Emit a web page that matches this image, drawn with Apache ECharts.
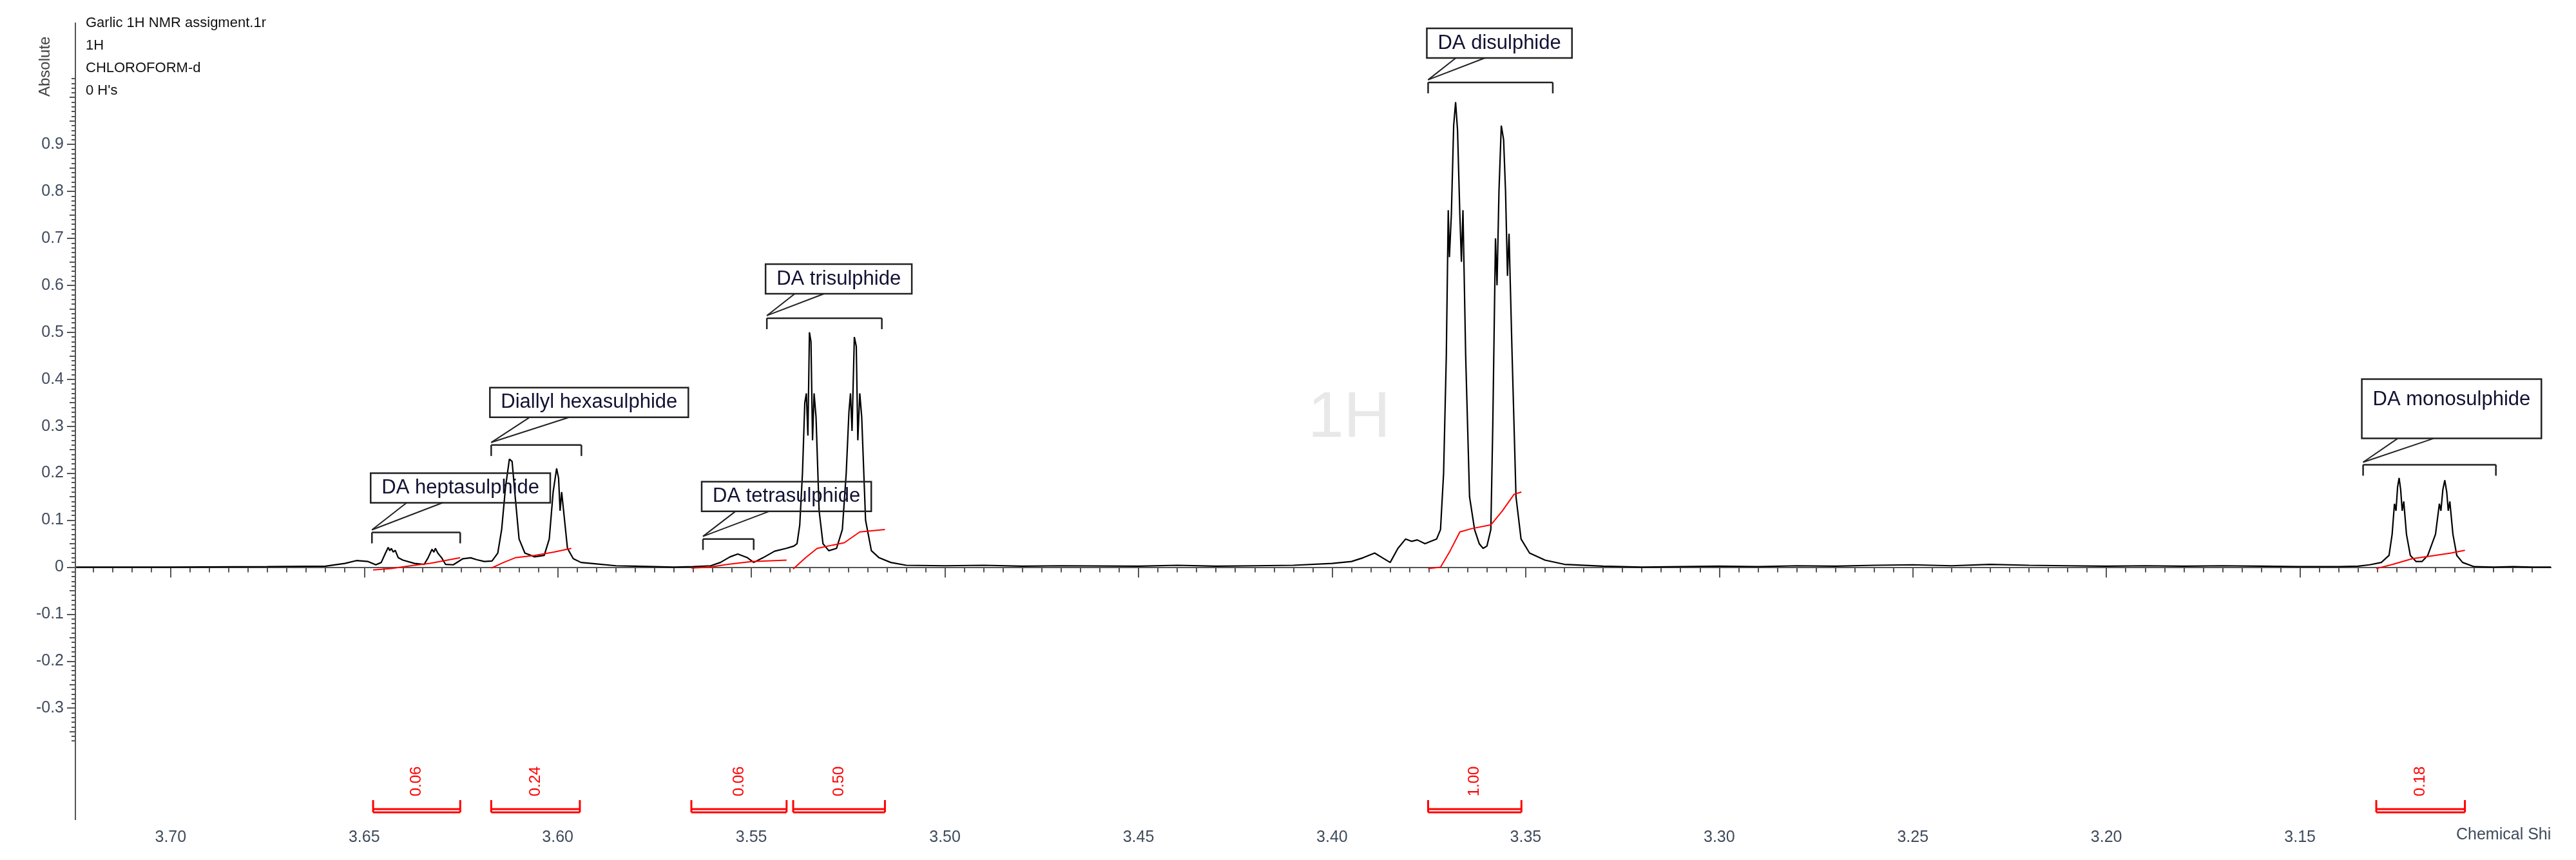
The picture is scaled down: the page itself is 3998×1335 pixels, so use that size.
<!DOCTYPE html>
<html><head><meta charset="utf-8">
<script src="https://cdn.jsdelivr.net/npm/echarts@6/dist/echarts.min.js"></script>
<style>html,body{margin:0;padding:0;background:#fff}#c{width:3998px;height:1335px}</style>
</head><body><div id="c"></div>
<script>
// Spectrum [ppm, intensity]
const spectrum = [
[3.7244,0],[3.70,0],[3.675,0.001],[3.660,0.002],[3.655,0.008],[3.652,0.014],[3.649,0.012],[3.647,0.005],
[3.6456,0.01],[3.6445,0.03],[3.6438,0.042],[3.6434,0.035],[3.6430,0.04],[3.6425,0.032],[3.6420,0.036],[3.6412,0.02],
[3.640,0.015],[3.637,0.008],[3.6345,0.006],[3.6335,0.02],[3.6325,0.038],[3.6320,0.032],[3.6316,0.04],[3.6310,0.03],
[3.6300,0.02],[3.6290,0.006],[3.627,0.005],[3.6245,0.018],[3.6225,0.02],[3.621,0.016],[3.619,0.012],[3.617,0.013],
[3.6155,0.03],[3.6145,0.08],[3.6135,0.17],[3.6125,0.23],[3.6118,0.225],[3.6110,0.15],[3.6100,0.06],[3.6085,0.03],
[3.606,0.022],[3.6035,0.025],[3.6022,0.06],[3.6012,0.16],[3.6003,0.21],[3.5998,0.19],[3.5994,0.12],[3.5990,0.16],
[3.5985,0.12],[3.5975,0.04],[3.596,0.018],[3.594,0.01],[3.590,0.007],[3.585,0.003],[3.58,0.002],[3.575,0.001],
[3.57,0.0],[3.565,0.001],[3.5605,0.003],[3.558,0.01],[3.5555,0.022],[3.5535,0.028],[3.551,0.02],[3.5494,0.01],
[3.547,0.02],[3.544,0.034],[3.541,0.04],[3.539,0.045],[3.5382,0.05],[3.5375,0.09],[3.5368,0.2],[3.5362,0.35],
[3.5358,0.37],[3.5354,0.28],[3.5350,0.5],[3.5346,0.48],[3.5342,0.27],[3.5338,0.37],[3.5333,0.32],[3.5325,0.12],
[3.5315,0.05],[3.530,0.035],[3.528,0.04],[3.5265,0.08],[3.5255,0.2],[3.5248,0.33],[3.5244,0.37],[3.5240,0.29],
[3.5234,0.49],[3.5229,0.47],[3.5225,0.27],[3.5220,0.37],[3.5215,0.32],[3.5205,0.1],[3.519,0.035],[3.517,0.02],
[3.514,0.01],[3.51,0.004],[3.50,0.003],[3.49,0.004],[3.48,0.002],[3.47,0.003],[3.45,0.002],[3.44,0.004],
[3.43,0.002],[3.42,0.003],[3.41,0.004],[3.40,0.008],[3.395,0.012],[3.392,0.02],[3.389,0.03],[3.387,0.02],
[3.385,0.01],[3.383,0.04],[3.381,0.06],[3.3795,0.055],[3.378,0.058],[3.376,0.05],[3.3745,0.055],[3.373,0.06],
[3.372,0.08],[3.3712,0.2],[3.3705,0.45],[3.3700,0.76],[3.3697,0.66],[3.3692,0.75],[3.3686,0.94],[3.3681,0.99],
[3.3676,0.93],[3.3670,0.75],[3.3666,0.65],[3.3662,0.76],[3.3655,0.45],[3.3645,0.15],[3.3632,0.08],[3.362,0.05],
[3.361,0.04],[3.360,0.045],[3.359,0.08],[3.3585,0.3],[3.3578,0.70],[3.3574,0.6],[3.3569,0.8],[3.3563,0.94],
[3.3557,0.91],[3.3552,0.8],[3.3547,0.62],[3.3543,0.71],[3.3535,0.45],[3.3525,0.15],[3.3512,0.06],[3.349,0.03],
[3.345,0.015],[3.34,0.006],[3.33,0.002],[3.32,0.0],[3.31,0.001],[3.30,0.002],[3.29,0.001],[3.28,0.003],
[3.27,0.002],[3.26,0.004],[3.25,0.005],[3.24,0.003],[3.23,0.006],[3.22,0.004],[3.21,0.003],[3.20,0.002],
[3.19,0.003],[3.18,0.002],[3.17,0.003],[3.16,0.002],[3.15,0.001],[3.14,0.001],[3.135,0.002],[3.132,0.005],
[3.129,0.01],[3.127,0.025],[3.1262,0.07],[3.1256,0.135],[3.1252,0.12],[3.1248,0.17],[3.1244,0.19],[3.1240,0.165],
[3.1236,0.12],[3.1232,0.14],[3.1225,0.07],[3.1215,0.025],[3.120,0.012],[3.1185,0.012],[3.117,0.025],[3.1150,0.07],
[3.1140,0.135],[3.1136,0.12],[3.1131,0.165],[3.1126,0.185],[3.1121,0.16],[3.1117,0.12],[3.1113,0.14],[3.1105,0.07],
[3.1095,0.025],[3.108,0.01],[3.105,0.001],[3.10,0.0],[3.095,0.001],[3.09,0.0],[3.0852,0.0]
];
// Integral curves
const integralHepta = [[3.6477,-0.006],[3.643,-0.003],[3.638,0.003],[3.633,0.008],[3.6252,0.02]];
const integralHexa = [[3.6172,-0.002],[3.614,0.01],[3.611,0.02],[3.606,0.025],[3.601,0.032],[3.5965,0.04]];
const integralTetra = [[3.5655,-0.002],[3.561,0.0],[3.556,0.006],[3.550,0.012],[3.5409,0.015]];
const integralTri = [[3.5392,-0.004],[3.536,0.02],[3.533,0.04],[3.529,0.047],[3.526,0.052],[3.522,0.075],[3.5155,0.08]];
const integralDi = [[3.3752,-0.003],[3.372,0.0],[3.3695,0.035],[3.367,0.075],[3.364,0.082],[3.359,0.09],[3.356,0.12],[3.353,0.155],[3.3511,0.16]];
const integralMono = [[3.1303,-0.003],[3.126,0.006],[3.121,0.018],[3.116,0.024],[3.111,0.03],[3.1074,0.036]];
// Integral brackets
const integralStarts = [3.6477,3.6172,3.5655,3.5392,3.3752,3.1303];
const integralEnds = [3.6252,3.5943,3.5409,3.5155,3.3511,3.1074];
const integralValues = ['0.06','0.24','0.06','0.50','1.00','0.18'];
// Peak assignment annotations
const annoTexts = ['DA heptasulphide','Diallyl hexasulphide','DA tetrasulphide','DA trisulphide','DA disulphide','DA monosulphide'];
const annoLeft = [3.6480,3.6172,3.5625,3.5460,3.3752,3.1337];
const annoRight = [3.6252,3.5939,3.5494,3.5163,3.3430,3.0994];
const annoBracketY = [0.074,0.26,0.060,0.53,1.032,0.218];
const annoBoxBottom = [0.137,0.319,0.119,0.582,1.084,0.274];
// Tick labels
const xLabels = [3.70,3.65,3.60,3.55,3.50,3.45,3.40,3.35,3.30,3.25,3.20,3.15];
const yLabels = [-0.3,-0.2,-0.1,0,0.1,0.2,0.3,0.4,0.5,0.6,0.7,0.8,0.9];

const X_MIN=3.0852, X_MAX=3.7246, Y_MIN=-0.537, Y_MAX=1.158;
const xMinor=[]; for(let i=618;i<=744;i++) xMinor.push(+(i*0.005).toFixed(3));
const yMinor=[]; for(let i=-37;i<=104;i++) yMinor.push(+(i/100).toFixed(2));
const yMid=[]; for(let i=-7;i<=20;i++) yMid.push(+(i*0.05).toFixed(2));
const labelColor='#3f4b5c', axisColor='#555';
const FONT='"Liberation Sans", Arial, sans-serif';

function xAx(ticks,len,labels){return {type:'value',min:X_MIN,max:X_MAX,inverse:true,position:'bottom',
 axisLine:{show:true,lineStyle:{color:axisColor,width:2}},splitLine:{show:false},
 axisTick:{show:true,customValues:ticks,length:len,lineStyle:{color:axisColor,width:2}},
 axisLabel:labels?{show:true,customValues:labels,color:labelColor,fontSize:25,fontFamily:FONT,margin:16,formatter:v=>v.toFixed(2)}:{show:false}};}
function yAx(ticks,len,labels){return {type:'value',min:Y_MIN,max:Y_MAX,position:'left',
 axisLine:{show:true,lineStyle:{color:axisColor,width:2}},splitLine:{show:false},
 axisTick:{show:true,customValues:ticks,length:len,lineStyle:{color:axisColor,width:2}},
 axisLabel:labels?{show:true,customValues:labels,color:labelColor,fontSize:25,fontFamily:FONT,margin:18,formatter:v=>(v===0?'0':v.toFixed(1))}:{show:false}};}

const chart=echarts.init(document.getElementById('c'),null,{renderer:'canvas'});
function line(data,color,w){return {type:'line',data:data,showSymbol:false,symbol:'none',silent:true,animation:false,
 lineStyle:{color:color,width:w},clip:true,z:3};}
const integralData = integralStarts.map((s,i)=>[s,integralEnds[i],integralValues[i]]);
const annoData = annoTexts.map((t,i)=>[annoLeft[i],annoRight[i],annoBracketY[i],annoBoxBottom[i],t]);

chart.setOption({
 animation:false,
 grid:{left:117,right:39,top:36,bottom:63},
 xAxis:[xAx(xMinor,8,null),xAx(xLabels,16,xLabels)],
 yAxis:[yAx(yMinor,6,null),yAx(yMid,9,null),yAx(yLabels,13,yLabels)],
 graphic:[
  {type:'text',left:133,top:18,style:{text:"Garlic 1H NMR assigment.1r\n1H\nCHLOROFORM-d\n0 H's",fill:'#111',font:'22px '+FONT,lineHeight:35}},
  {type:'text',x:58,y:150,rotation:Math.PI/2,style:{text:'Absolute',fill:'#444',font:'24px '+FONT}},
  {type:'text',left:3812,top:1284,style:{text:'Chemical Shi',fill:labelColor,font:'25px '+FONT}},
  {type:'text',x:2030,y:600,style:{text:'1H',fill:'#e8e8e8',font:'100px '+FONT},z:0}
 ],
 series:[
  line(spectrum,'#000',2.2),
  line(integralHepta,'#ff0000',2),line(integralHexa,'#ff0000',2),line(integralTetra,'#ff0000',2),
  line(integralTri,'#ff0000',2),line(integralDi,'#ff0000',2),line(integralMono,'#ff0000',2),
  {type:'custom',data:integralData,silent:true,animation:false,z:4,
   renderItem:function(params,api){
     const a=api.coord([api.value(0),0])[0], b=api.coord([api.value(1),0])[0];
     const yb=1261, c='#ff0000';
     return {type:'group',children:[
       {type:'line',shape:{x1:a,y1:yb-19,x2:a,y2:yb},style:{stroke:c,lineWidth:3}},
       {type:'line',shape:{x1:b,y1:yb-19,x2:b,y2:yb},style:{stroke:c,lineWidth:3}},
       {type:'line',shape:{x1:a,y1:yb,x2:b,y2:yb},style:{stroke:c,lineWidth:3}},
       {type:'line',shape:{x1:a,y1:yb-5,x2:b,y2:yb-5},style:{stroke:c,lineWidth:3}},
       {type:'text',x:(a+b)/2,y:yb-48,rotation:Math.PI/2,style:{text:integralValues[params.dataIndex],fill:c,font:'24px '+FONT,align:'center',verticalAlign:'middle'}}
     ]};
   }},
  {type:'custom',data:annoData,silent:true,animation:false,z:5,
   renderItem:function(params,api){
     const l=api.coord([api.value(0),api.value(2)]), r=api.coord([api.value(1),api.value(2)]);
     const bl=api.coord([api.value(0),api.value(3)]);
     const txt=annoTexts[params.dataIndex];
     const tall=params.dataIndex===5;
     const font='31px '+FONT;
     const tw=echarts.format.getTextRect?echarts.format.getTextRect(txt,font).width:txt.length*15;
     const padX=17, h=tall?92:46;
     const w=tw+padX*2;
     const bx=bl[0]-2, by=bl[1]-h;
     return {type:'group',children:[
       {type:'rect',shape:{x:bx,y:by,width:w,height:h},style:{fill:'rgba(0,0,0,0)',stroke:'#222',lineWidth:2.5}},
       {type:'text',x:bx+padX,y:tall?by+32:by+h/2,style:{text:txt,fill:'#111133',font:font,verticalAlign:'middle'}},
       {type:'line',shape:{x1:l[0],y1:l[1],x2:r[0],y2:r[1]},style:{stroke:'#222',lineWidth:2.5}},
       {type:'line',shape:{x1:l[0],y1:l[1],x2:l[0],y2:l[1]+17},style:{stroke:'#222',lineWidth:2.5}},
       {type:'line',shape:{x1:r[0],y1:r[1],x2:r[0],y2:r[1]+17},style:{stroke:'#222',lineWidth:2.5}},
       {type:'line',shape:{x1:l[0],y1:l[1]-4,x2:bx+w*0.2,y2:by+h},style:{stroke:'#222',lineWidth:2}},
       {type:'line',shape:{x1:l[0],y1:l[1]-4,x2:bx+w*0.4,y2:by+h},style:{stroke:'#222',lineWidth:2}}
     ]};
   }}
 ]
});
</script></body></html>
